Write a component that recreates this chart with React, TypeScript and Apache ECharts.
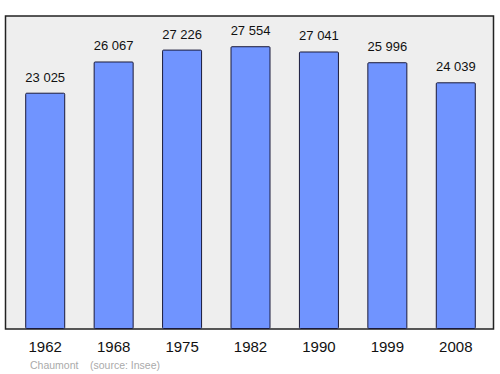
import React, { useEffect, useRef } from "react";
import * as echarts from "echarts";

const years = ["1962", "1968", "1975", "1982", "1990", "1999", "2008"];
const population = [23025, 26067, 27226, 27554, 27041, 25996, 24039];
const townName = "Chaumont";
const sourceText = "(source: Insee)";

const fmt = (v: number) => {
  const s = String(Math.round(v));
  return s.replace(/\B(?=(\d{3})+(?!\d))/g, " ");
};

export default function App() {
  const ref = useRef<HTMLDivElement>(null);
  useEffect(() => {
    if (!ref.current) return;
    const chart = echarts.init(ref.current, undefined, { renderer: "svg" });
    chart.setOption({
      animation: false,
      grid: { left: 11, right: 10, top: 16, bottom: 45 },
      graphic: [
        {
          type: "rect",
          z: 0,
          shape: { x: 5.5, y: 16, width: 488, height: 313 },
          style: { fill: "#eeeeee", stroke: "#222222", lineWidth: 1.5 },
        },
        {
          type: "text",
          x: 30,
          y: 359,
          style: {
            text: townName,
            fill: "#aaaaaa",
            font: "10.5px 'Liberation Sans', Arial, sans-serif",
          },
        },
        {
          type: "text",
          x: 90,
          y: 359,
          style: {
            text: sourceText,
            fill: "#aaaaaa",
            font: "10.5px 'Liberation Sans', Arial, sans-serif",
          },
        },
      ],
      xAxis: {
        type: "category",
        data: years,
        axisLine: { show: false },
        axisTick: { show: false },
        axisLabel: {
          margin: 10,
          fontSize: 15,
          color: "#111",
          fontFamily: "'Liberation Sans', Arial, sans-serif",
        },
      },
      yAxis: {
        type: "value",
        min: 0,
        max: 30500,
        show: false,
        splitLine: { show: false },
      },
      series: [
        {
          type: "bar",
          data: population,
          barWidth: 40,
          z: 2,
          itemStyle: {
            color: "#7094ff",
            borderColor: "#1a1a3a",
            borderWidth: 1,
            borderRadius: 1,
          },
          label: {
            show: true,
            position: "top",
            distance: 9,
            fontSize: 13,
            color: "#111",
            fontFamily: "'Liberation Sans', Arial, sans-serif",
            formatter: (p: any) => fmt(p.value),
          },
        },
      ],
    });
    return () => chart.dispose();
  }, []);
  return <div ref={ref} style={{ width: 500, height: 374, position: "absolute", left: 0, top: 0 }} />;
}
